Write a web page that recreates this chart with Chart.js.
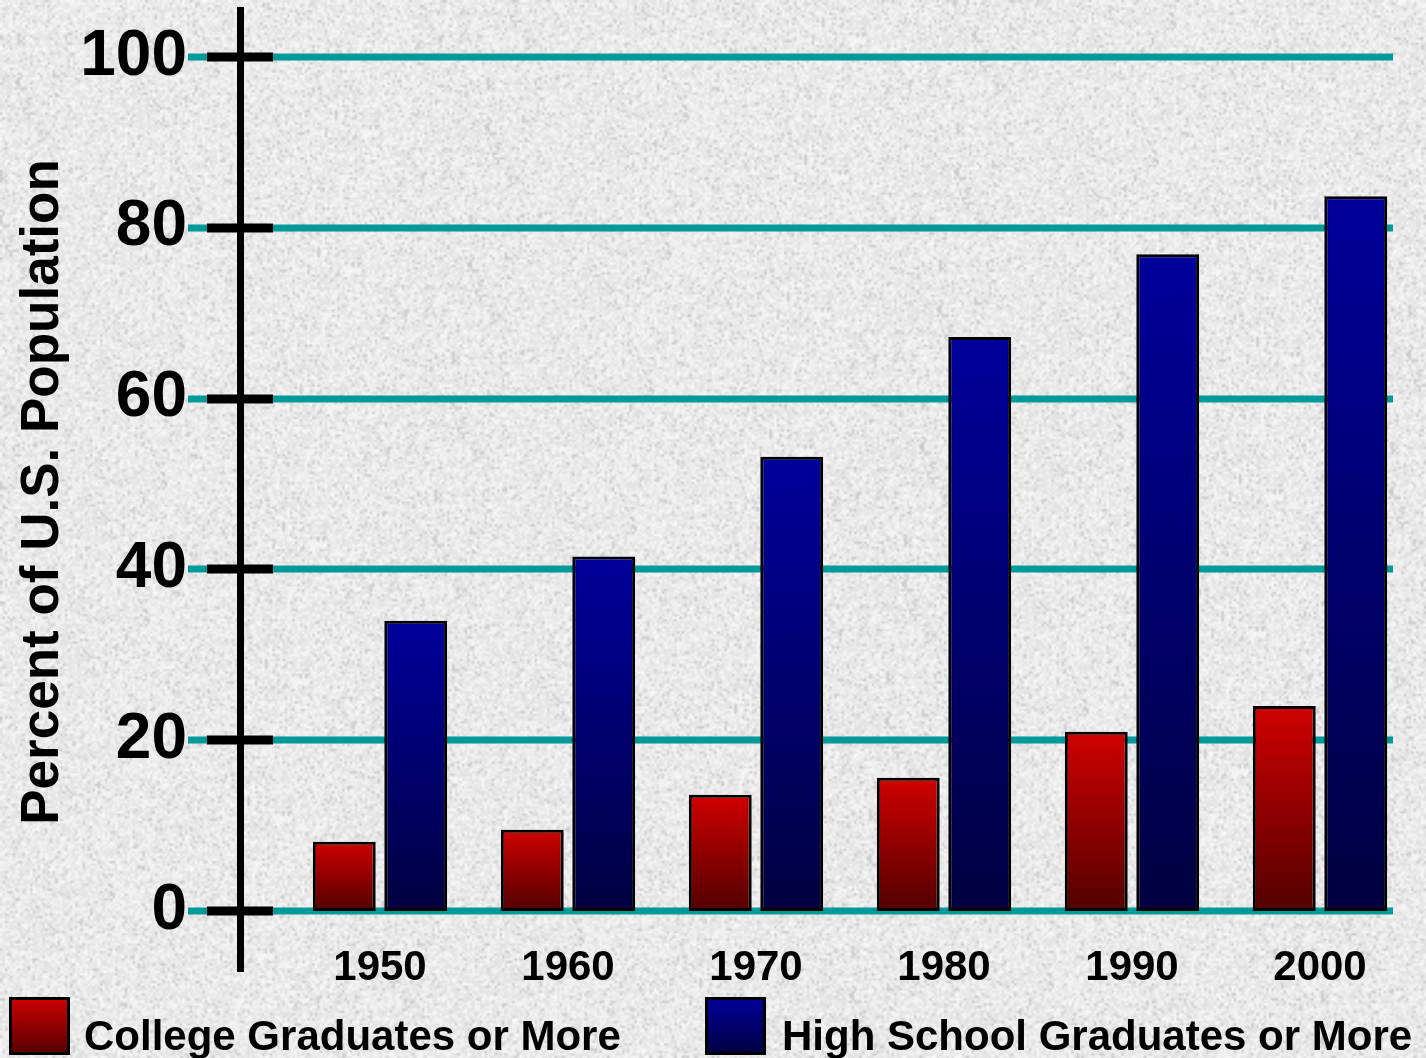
<!DOCTYPE html>
<html>
<head>
<meta charset="utf-8">
<title>Educational Attainment</title>
<script src="https://cdn.jsdelivr.net/npm/chart.js@4/dist/chart.umd.min.js"></script>
<style>
  html, body { margin: 0; padding: 0; background: #e2e2e2; }
  #wrap { width: 1426px; height: 1058px; position: relative; }
  canvas { display: block; }
</style>
</head>
<body>
<div id="wrap"><canvas id="chart" width="1426" height="1058"></canvas></div>
<script>
// Census years on the category axis
const years = ['1950', '1960', '1970', '1980', '1990', '2000'];
// Share of the adult population, in percent
const collegeGrads = [8.1, 9.5, 13.6, 15.6, 21.0, 24.0];
const highSchoolGrads = [34.0, 41.5, 53.2, 67.2, 76.9, 83.7];
// Value axis ticks
const yTicks = [0, 20, 40, 60, 80, 100];
const seriesNames = ['College Graduates or More', 'High School Graduates or More'];
const yTitle = 'Percent of U.S. Population';

const FONT = '"Liberation Sans", Arial, Helvetica, sans-serif';
const RED = ['#d00000', '#520000'];
const BLUE = ['#00009c', '#000040'];

// Speckled stone-like backdrop, built from a deterministic hash
function makeTexture(w, h) {
  const small = document.createElement('canvas');
  const sw = Math.ceil(w / 2.5), sh = Math.ceil(h / 2.5);
  small.width = sw; small.height = sh;
  const sctx = small.getContext('2d');
  const img = sctx.createImageData(sw, sh);
  let s = 1234567;
  function next() {
    s = (s * 1103515245 + 12345) & 0x7fffffff;
    return s / 0x7fffffff;
  }
  for (let i = 0; i < sw * sh; i++) {
    const r = next();
    let v = 234 + (r - 0.5) * 28;
    if (r < 0.07) v -= 16;
    const o = i * 4;
    img.data[o] = v; img.data[o + 1] = v; img.data[o + 2] = v; img.data[o + 3] = 255;
  }
  sctx.putImageData(img, 0, 0);
  const full = document.createElement('canvas');
  full.width = w; full.height = h;
  const fctx = full.getContext('2d');
  fctx.imageSmoothingEnabled = true;
  fctx.drawImage(small, 0, 0, w, h);
  return full;
}

function barGradient(colors) {
  return function (c) {
    const chart = c.chart;
    const y = chart.scales && chart.scales.y;
    if (!chart.chartArea || !y || c.raw === undefined) return colors[0];
    const top = y.getPixelForValue(c.raw);
    const bottom = y.getPixelForValue(0);
    const g = chart.ctx.createLinearGradient(0, top, 0, bottom);
    g.addColorStop(0, colors[0]);
    g.addColorStop(1, colors[1]);
    return g;
  };
}

const decorPlugin = {
  id: 'decor',
  beforeDraw(chart) {
    const ctx = chart.ctx;
    if (!chart.$texture) chart.$texture = makeTexture(chart.width, chart.height);
    ctx.save();
    ctx.drawImage(chart.$texture, 0, 0);
    ctx.restore();
  },
  beforeDatasetsDraw(chart) {
    const ctx = chart.ctx;
    const y = chart.scales.y;
    ctx.save();
    // teal horizontal guide lines
    ctx.strokeStyle = '#009a9a';
    ctx.lineWidth = 7;
    yTicks.forEach(v => {
      const py = Math.round(y.getPixelForValue(v));
      ctx.beginPath();
      ctx.moveTo(188, py);
      ctx.lineTo(1393, py);
      ctx.stroke();
    });
    // black tick marks across the value axis
    ctx.strokeStyle = '#000';
    ctx.lineWidth = 9;
    yTicks.forEach(v => {
      const py = Math.round(y.getPixelForValue(v));
      ctx.beginPath();
      ctx.moveTo(207, py);
      ctx.lineTo(273, py);
      ctx.stroke();
    });
    // vertical axis line
    ctx.lineWidth = 7;
    ctx.beginPath();
    ctx.moveTo(240.5, 7);
    ctx.lineTo(240.5, 972);
    ctx.stroke();
    ctx.restore();
  },
  afterDraw(chart) {
    const ctx = chart.ctx;
    ctx.save();
    // value axis title
    ctx.fillStyle = '#000';
    ctx.font = 'bold 53px ' + FONT;
    ctx.textAlign = 'center';
    ctx.textBaseline = 'alphabetic';
    ctx.translate(58, 492);
    ctx.rotate(-Math.PI / 2);
    ctx.fillText(yTitle, 0, 0);
    ctx.restore();

    // legend
    ctx.save();
    const items = [
      { x: 9, tx: 84, colors: RED, label: seriesNames[0] },
      { x: 705, tx: 782, colors: BLUE, label: seriesNames[1] }
    ];
    items.forEach(it => {
      const top = 997, h = 58, w = 61;
      const g = ctx.createLinearGradient(0, top, 0, top + h);
      g.addColorStop(0, it.colors[0]);
      g.addColorStop(1, it.colors[1]);
      ctx.fillStyle = g;
      ctx.fillRect(it.x, top, w, h);
      ctx.strokeStyle = '#000';
      ctx.lineWidth = 3;
      ctx.strokeRect(it.x + 1.5, top + 1.5, w - 3, h - 3);
      ctx.fillStyle = '#000';
      ctx.font = 'bold 42px ' + FONT;
      ctx.textAlign = 'left';
      ctx.textBaseline = 'alphabetic';
      ctx.fillText(it.label, it.tx, 1050);
    });
    ctx.restore();
  }
};

new Chart(document.getElementById('chart'), {
  type: 'bar',
  data: {
    labels: years,
    datasets: [
      {
        label: seriesNames[0],
        data: collegeGrads,
        backgroundColor: barGradient(RED),
        borderColor: '#000',
        borderWidth: 3,
        borderSkipped: false
      },
      {
        label: seriesNames[1],
        data: highSchoolGrads,
        backgroundColor: barGradient(BLUE),
        borderColor: '#000',
        borderWidth: 3,
        borderSkipped: false
      }
    ]
  },
  options: {
    responsive: false,
    animation: false,
    devicePixelRatio: 1,
    categoryPercentage: 0.76,
    barPercentage: 0.88,
    layout: { padding: { top: 57, left: 0, right: 12, bottom: 0 } },
    plugins: {
      legend: { display: false },
      tooltip: { enabled: false },
      title: { display: false }
    },
    scales: {
      x: {
        grid: { display: false, drawTicks: false },
        border: { display: false },
        ticks: {
          color: '#000',
          font: { family: FONT, size: 42, weight: 'bold' },
          padding: 32,
          maxRotation: 0
        },
        afterFit(scale) {
          scale.height = 147;
          scale.paddingLeft = 0;
          scale.paddingRight = 0;
        }
      },
      y: {
        min: 0,
        max: 100,
        grid: { display: false, drawTicks: false },
        border: { display: false },
        ticks: {
          stepSize: 20,
          color: '#000',
          font: { family: FONT, size: 64, weight: 'bold' },
          padding: 99
        },
        afterFit(scale) {
          scale.width = 286;
          scale.paddingTop = 0;
          scale.paddingBottom = 0;
        }
      }
    }
  },
  plugins: [decorPlugin]
});
</script>
</body>
</html>
